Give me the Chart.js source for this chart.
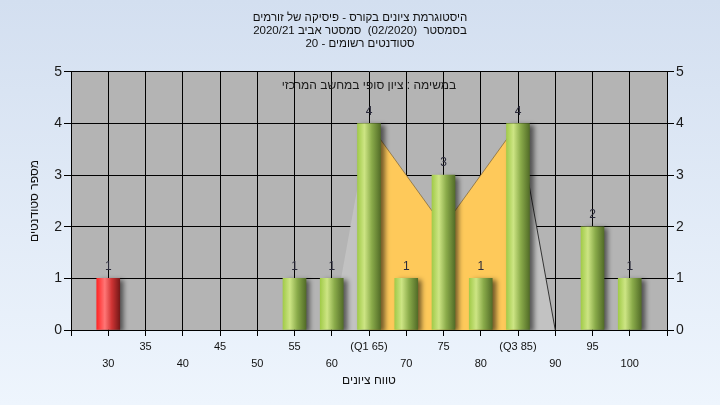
<!DOCTYPE html>
<html>
<head>
<meta charset="utf-8">
<script src="https://cdn.jsdelivr.net/npm/chart.js@4.4.1/dist/chart.umd.min.js"></script>
<style>
  html, body { margin: 0; padding: 0; }
  body { width: 720px; height: 405px; overflow: hidden; background: linear-gradient(#d3dff0, #eef5fd); }
  canvas { display: block; }
</style>
</head>
<body>
<canvas id="myChart" width="720" height="405" dir="rtl"></canvas>
<script>
// histogram bins (grade) and number of students in each one
let grades = [30, 55, 60, 65, 70, 75, 80, 85, 95, 100];
let students = [1, 1, 1, 4, 1, 3, 1, 4, 2, 1];
let failGrades = [30]; // these bins are drawn red

// quartiles get their own tick text
let tickNames = { 65: '(Q1 65)', 85: '(Q3 85)' };

// light gray outline behind the bars
let spreadGrades = [60, 65, 75, 85, 90];
let spreadCounts = [0, 4, 2, 4, 0];
// yellow box between Q1 and Q3
let boxGrades = [65, 75, 85];
let boxCounts = [4, 2, 4];

let titleLines = [
  'היסטוגרמת ציונים בקורס - פיסיקה של זורמים',
  'בסמסטר  (02/2020)  סמסטר אביב 2020/21',
  'סטודנטים רשומים - 20',
];
let noteText = 'במשימה : ציון סופי במחשב המרכזי';

let fontFamily = "'Liberation Sans', 'DejaVu Sans', sans-serif";

function barFill(context) {
  let chart = context.chart;
  if (!chart.chartArea || !context.raw) return '#9c4';
  let cx = chart.scales.x.getPixelForValue(context.raw.x);
  let g = chart.ctx.createLinearGradient(cx - 11.5, 0, cx + 11.5, 0);
  if (failGrades.includes(context.raw.x)) {
    g.addColorStop(0, '#ff2626');
    g.addColorStop(0.35, '#ff7676');
    g.addColorStop(0.65, '#cf3434');
    g.addColorStop(1, '#761818');
  } else {
    g.addColorStop(0, '#a2cb4a');
    g.addColorStop(0.3, '#cde584');
    g.addColorStop(0.62, '#8aab4a');
    g.addColorStop(1, '#536d28');
  }
  return g;
}

let plotBackground = {
  id: 'plotBackground',
  beforeDraw(chart) {
    let ctx = chart.ctx;
    let a = chart.chartArea;
    ctx.save();
    ctx.fillStyle = '#b4b4b4';
    ctx.fillRect(a.left, a.top, a.right - a.left, a.bottom - a.top);
    ctx.restore();
  },
};

let barShadow = {
  id: 'barShadow',
  beforeDatasetDraw(chart, args) {
    if (args.meta.type !== 'bar') return;
    let ctx = chart.ctx;
    ctx.save();
    ctx.shadowColor = 'rgba(0, 0, 0, 0.55)';
    ctx.shadowOffsetX = 4;
    ctx.shadowOffsetY = 2;
    ctx.shadowBlur = 5;
  },
  afterDatasetDraw(chart, args) {
    if (args.meta.type !== 'bar') return;
    chart.ctx.restore();
  },
};

let barLabels = {
  id: 'barLabels',
  afterDatasetsDraw(chart) {
    let ctx = chart.ctx;
    let a = chart.chartArea;
    ctx.save();
    ctx.font = '12px ' + fontFamily;
    ctx.fillStyle = '#2a2a3a';
    ctx.textAlign = 'center';
    ctx.textBaseline = 'middle';
    chart.getDatasetMeta(0).data.forEach((el, i) => {
      ctx.fillText(String(students[i]), el.x, el.y - 12);
    });
    // note line inside the plot
    ctx.direction = 'rtl';
    ctx.fillStyle = '#1a1a1a';
    ctx.fillText(noteText, (a.left + a.right) / 2, a.top + 14);
    ctx.restore();
  },
};

let chart = document.getElementById('myChart').getContext('2d');
let myChart = new Chart(chart, {
  type: 'bar',
  data: {
    datasets: [
      {
        type: 'bar',
        data: grades.map((g, i) => ({ x: g, y: students[i] })),
        backgroundColor: barFill,
        borderWidth: 0,
        barThickness: 23,
        order: 0,
      },
      {
        type: 'line',
        data: boxGrades.map((g, i) => ({ x: g, y: boxCounts[i] })),
        fill: 'origin',
        backgroundColor: '#fec95a',
        borderColor: 'rgba(120, 95, 50, 0.7)',
        borderWidth: 1,
        pointRadius: 0,
        tension: 0,
        order: 1,
      },
      {
        type: 'line',
        data: spreadGrades.map((g, i) => ({ x: g, y: spreadCounts[i] })),
        fill: 'origin',
        backgroundColor: '#c2c2c2',
        borderWidth: 1,
        segment: {
          borderColor: (ctx) => (ctx.p1DataIndex === spreadGrades.length - 1 ? '#333' : 'rgba(0,0,0,0)'),
        },
        pointRadius: 0,
        tension: 0,
        order: 2,
      },
    ],
  },
  options: {
    responsive: false,
    animation: false,
    layout: { padding: 0 },
    plugins: {
      legend: { display: false },
      tooltip: { enabled: false },
      title: {
        display: true,
        text: titleLines,
        color: '#111',
        font: { family: fontFamily, size: 11.5, weight: 'normal', lineHeight: 1.1 },
        padding: { top: 12, bottom: 22 },
      },
    },
    scales: {
      x: {
        type: 'linear',
        min: 25,
        max: 105,
        offset: false,
        grid: { color: '#000', tickColor: '#000', tickLength: 6, offset: false },
        border: { color: '#000' },
        ticks: {
          stepSize: 5,
          autoSkip: false,
          maxRotation: 0,
          padding: 2,
          color: '#111',
          font: { family: fontFamily, size: 11, lineHeight: 1.6 },
          callback: (v) => {
            if (v <= 25 || v >= 105) return '';
            if (v % 10 === 5) return [tickNames[v] || String(v), ''];
            return ['', String(v)];
          },
        },
        title: {
          display: true,
          text: 'טווח ציונים',
          color: '#111',
          font: { family: fontFamily, size: 12 },
          padding: { top: 0, bottom: 17 },
        },
        afterFit: (s) => { s.height = 75; },
      },
      y: {
        position: 'left',
        min: 0,
        max: 5,
        grid: { color: '#000', tickColor: '#000', tickLength: 7 },
        border: { color: '#000' },
        ticks: { stepSize: 1, padding: 2, color: '#1a1a1a', font: { family: fontFamily, size: 14 } },
        title: {
          display: true,
          text: 'מספר סטודנטים',
          color: '#111',
          font: { family: fontFamily, size: 12 },
          padding: { top: 27, bottom: 0 },
        },
        afterFit: (s) => { s.width = 71; },
      },
      y2: {
        position: 'right',
        min: 0,
        max: 5,
        grid: { drawOnChartArea: false, color: '#000', tickColor: '#000', tickLength: 7 },
        border: { color: '#000' },
        ticks: { stepSize: 1, padding: 2, color: '#1a1a1a', font: { family: fontFamily, size: 14 } },
        afterFit: (s) => { s.width = 53; },
      },
    },
  },
  plugins: [plotBackground, barShadow, barLabels],
});
</script>
</body>
</html>
